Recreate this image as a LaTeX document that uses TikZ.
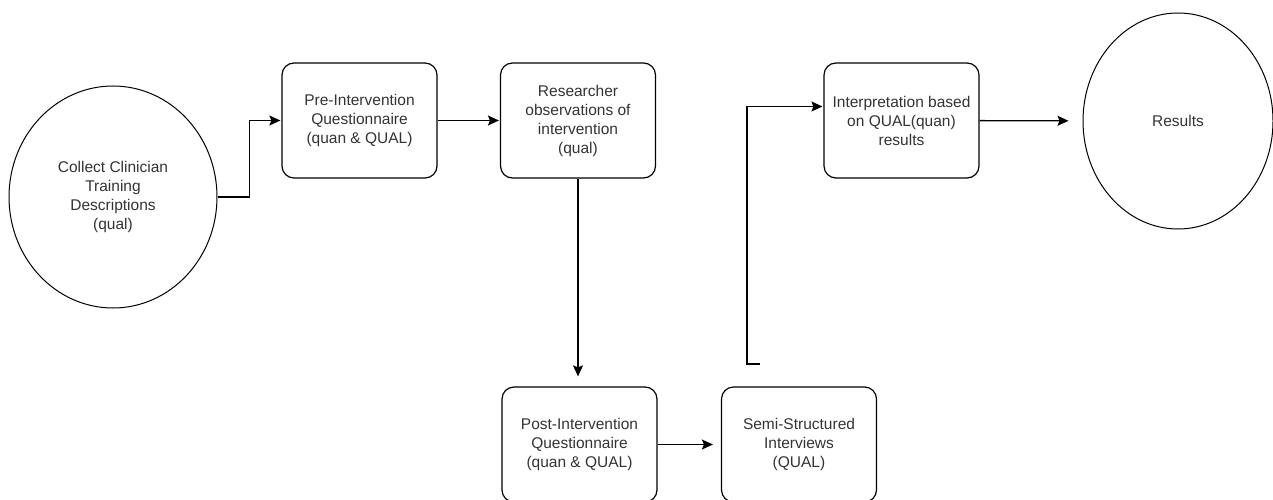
\documentclass[tikz,border=0pt]{standalone}
\usepackage{fontspec}
\setmainfont{Liberation Sans}
\usetikzlibrary{shapes.geometric,arrows.meta}
\begin{document}
\begin{tikzpicture}[x=1pt,y=-1pt,
  every node/.style={font=\fontsize{15.5}{19}\selectfont, text=black!80, align=center},
  stage/.style={draw, rounded corners=12pt, minimum width=155pt, minimum height=115pt, inner sep=0pt, line width=1.2pt},
  endpoint/.style={draw, ellipse, inner sep=0pt, line width=1pt},
  flow/.style={line width=1.3pt, -{Stealth[length=11pt,width=10pt,inset=2pt]}}
]
\useasboundingbox (0,0) rectangle (1273,500);

% process stages
\node[endpoint, minimum width=208pt, minimum height=222pt] (collect) at (113,197)
  {Collect Clinician\\Training\\Descriptions\\(qual)};
\node[stage] (pre) at (359.5,120.5) {Pre-Intervention\\Questionnaire\\(quan \& QUAL)};
\node[stage] (obs) at (578,120.5) {Researcher\\observations of\\intervention\\(qual)};
\node[stage] (post) at (579.5,444.5) {Post-Intervention\\Questionnaire\\(quan \& QUAL)};
\node[stage] (semi) at (799,444.5) {Semi-Structured\\Interviews\\(QUAL)};
\node[stage] (interp) at (901.5,120.5) {Interpretation based\\on QUAL(quan)\\results};
\node[endpoint, minimum width=190pt, minimum height=216pt] (results) at (1178,121) {Results};
\coordinate (loose) at (760,364);

% connectors
\draw[flow, shorten >=1pt] (collect.east) -- ++(32,0) |- (pre.west);
\draw[flow, shorten >=1pt] (pre) -- (obs);
\draw[flow, shorten >=10pt] (obs.south) -- (obs.south |- post.north);
\draw[flow, shorten >=8pt] (post) -- (semi);
\draw[flow, shorten >=1pt] (loose) -- ++(-13,0) |- ([yshift=14pt]interp.west);
\draw[flow, shorten >=14pt] (interp) -- (results);
\end{tikzpicture}
\end{document}
